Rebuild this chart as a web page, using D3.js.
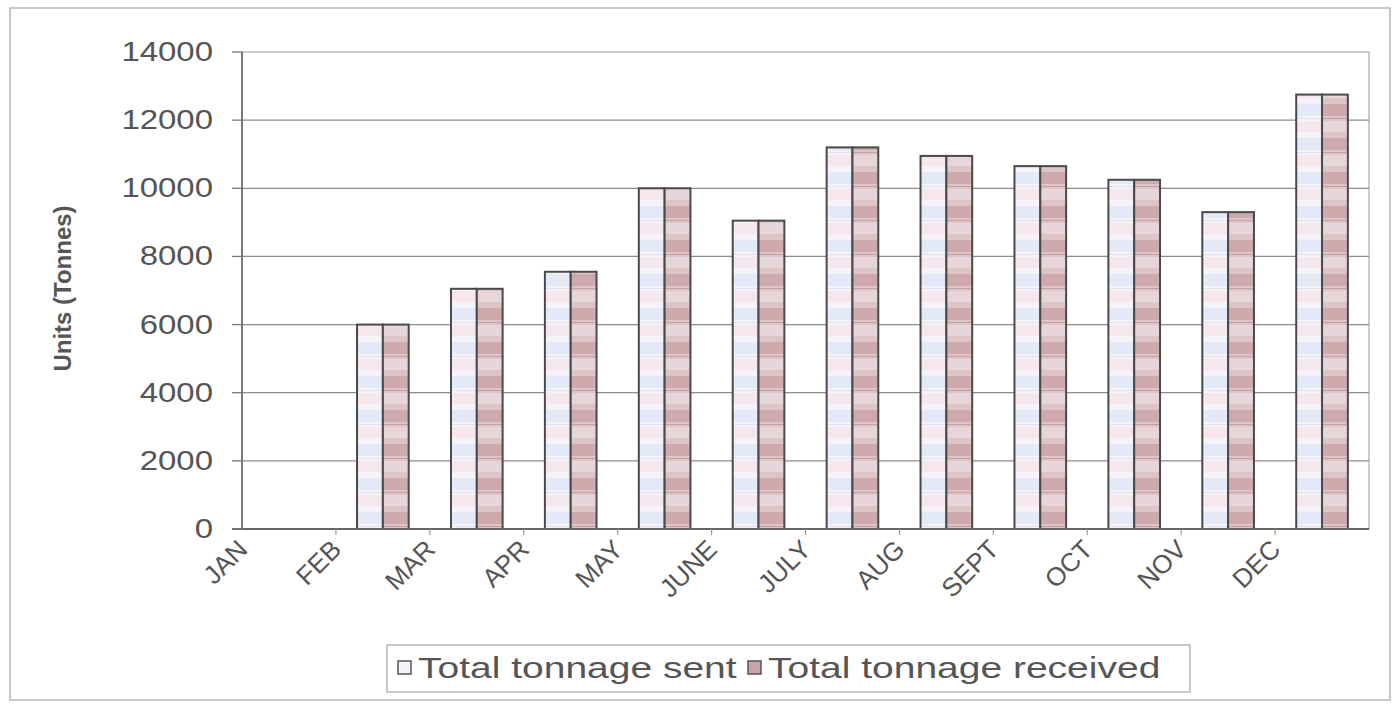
<!DOCTYPE html>
<html>
<head>
<meta charset="utf-8">
<script src="https://cdnjs.cloudflare.com/ajax/libs/d3/7.8.5/d3.min.js"></script>
<style>
  html, body { margin: 0; padding: 0; background: #fff; }
  svg { display: block; }
  text { font-family: "Liberation Sans", Arial, sans-serif; fill: #555; }
</style>
</head>
<body>
<svg id="chart" width="1398" height="704"></svg>
<script>
// --- data ---
const months = ['JAN', 'FEB', 'MAR', 'APR', 'MAY', 'JUNE', 'JULY', 'AUG', 'SEPT', 'OCT', 'NOV', 'DEC'];
const sent     = [0, 6000, 7050, 7550, 10000, 9050, 11200, 10950, 10650, 10250, 9300, 12750];
const received = [0, 6000, 7050, 7550, 10000, 9050, 11200, 10950, 10650, 10250, 9300, 12750];
const seriesNames = ['Total tonnage sent', 'Total tonnage received'];
const yTicks = [0, 2000, 4000, 6000, 8000, 10000, 12000, 14000];

const plot = { left: 242, right: 1369, top: 52, bottom: 529 };
const STRETCH = 1.22; // the scan is a bit wide, text looks stretched

const svg = d3.select('#chart');
const defs = svg.append('defs');

// striped fills, roughly like the blurred excel pattern
function stripePattern(id, base, bandA, bandB, line) {
  const p = defs.append('pattern')
    .attr('id', id)
    .attr('patternUnits', 'userSpaceOnUse')
    .attr('width', 8).attr('height', 34);
  p.append('rect').attr('width', 8).attr('height', 34).attr('fill', base);
  p.append('rect').attr('y', 2).attr('width', 8).attr('height', 12).attr('fill', bandA);
  p.append('rect').attr('y', 19).attr('width', 8).attr('height', 11).attr('fill', bandB);
  p.append('rect').attr('y', 16).attr('width', 8).attr('height', 1).attr('fill', line);
}
stripePattern('patSent', '#f5f3fa', '#e3e9f7', '#f5e7ec', '#e6e0ee');
stripePattern('patRecv', '#dcc4c7', '#cea9ad', '#e6d6d9', '#bea2a6');

// outer chart frame
svg.append('rect')
  .attr('x', 10).attr('y', 8)
  .attr('width', 1380).attr('height', 692)
  .attr('fill', '#fff')
  .attr('stroke', '#c8c8c8')
  .attr('stroke-width', 2);

const x = d3.scaleBand().domain(months).range([plot.left, plot.right]).padding(0);
const bw = x.bandwidth();
const xSub = d3.scaleBand().domain(seriesNames).range([bw * 0.225, bw * 0.775]).padding(0);
const y = d3.scaleLinear().domain([0, 14000]).range([plot.bottom, plot.top]);

// plot area border and gridlines
svg.append('rect')
  .attr('x', plot.left).attr('y', plot.top)
  .attr('width', plot.right - plot.left).attr('height', plot.bottom - plot.top)
  .attr('fill', 'none')
  .attr('stroke', '#a8a8a8')
  .attr('stroke-width', 1.2);

svg.append('g').selectAll('line')
  .data(yTicks.filter(d => d > 0 && d < 14000))
  .join('line')
    .attr('x1', plot.left).attr('x2', plot.right)
    .attr('y1', d => y(d)).attr('y2', d => y(d))
    .attr('stroke', '#8c8c8c')
    .attr('stroke-width', 1.3);

// bars
const rows = months.map((m, i) => ({ month: m, values: [sent[i], received[i]] }));
const groups = svg.append('g').selectAll('g')
  .data(rows).join('g')
    .attr('transform', d => `translate(${x(d.month)},0)`);

groups.selectAll('rect')
  .data(d => d.values.map((v, k) => ({ key: seriesNames[k], k, v })).filter(e => e.v > 0))
  .join('rect')
    .attr('x', e => xSub(e.key))
    .attr('y', e => y(e.v))
    .attr('width', xSub.bandwidth())
    .attr('height', e => y(0) - y(e.v))
    .attr('fill', e => e.k === 0 ? 'url(#patSent)' : 'url(#patRecv)')
    .attr('stroke', '#4a4a4a')
    .attr('stroke-width', 2);

// axis lines
svg.append('line')
  .attr('x1', plot.left).attr('x2', plot.left)
  .attr('y1', plot.top).attr('y2', plot.bottom)
  .attr('stroke', '#666').attr('stroke-width', 1.6);
svg.append('line')
  .attr('x1', plot.left - 10).attr('x2', plot.right)
  .attr('y1', plot.bottom).attr('y2', plot.bottom)
  .attr('stroke', '#666').attr('stroke-width', 1.8);

// y ticks + labels
svg.append('g').selectAll('line')
  .data(yTicks).join('line')
    .attr('x1', plot.left - 10).attr('x2', plot.left)
    .attr('y1', d => y(d)).attr('y2', d => y(d))
    .attr('stroke', '#777').attr('stroke-width', 1.3);

svg.append('g').selectAll('text')
  .data(yTicks).join('text')
    .attr('transform', d => `translate(213,${y(d) + 9}) scale(${STRETCH},1)`)
    .attr('text-anchor', 'end')
    .attr('font-size', '27px')
    .text(d => d);

// x ticks between categories
svg.append('g').selectAll('line')
  .data(months.slice(1)).join('line')
    .attr('x1', d => x(d)).attr('x2', d => x(d))
    .attr('y1', plot.bottom).attr('y2', plot.bottom + 6)
    .attr('stroke', '#999').attr('stroke-width', 1.2);

// rotated month labels
svg.append('g').selectAll('text')
  .data(months).join('text')
    .attr('transform', d => `translate(${x(d) + bw / 2 - 40},${plot.bottom + 22}) rotate(-45)`)
    .attr('text-anchor', 'end')
    .attr('font-size', '26px')
    .text(d => d);

// y axis title
svg.append('text')
  .attr('transform', `translate(71,${(200 + 377) / 2}) rotate(-90)`)
  .attr('text-anchor', 'middle')
  .attr('font-size', '24px')
  .attr('font-weight', 'bold')
  .attr('fill', '#444')
  .text('Units (Tonnes)');

// legend
const legend = svg.append('g');
legend.append('rect')
  .attr('x', 387).attr('y', 645)
  .attr('width', 803).attr('height', 47)
  .attr('fill', '#fff')
  .attr('stroke', '#b8b8b8')
  .attr('stroke-width', 1.5);

const legendX = [398, 748];
seriesNames.forEach((name, i) => {
  legend.append('rect')
    .attr('x', legendX[i]).attr('y', 661)
    .attr('width', 13).attr('height', 13)
    .attr('fill', i === 0 ? '#f6f4fa' : '#c9a3a8')
    .attr('stroke', '#555')
    .attr('stroke-width', 1.5);
  legend.append('text')
    .attr('transform', `translate(${legendX[i] + 20},678) scale(1.3,1)`)
    .attr('font-size', '30px')
    .text(name);
});
</script>
</body>
</html>
